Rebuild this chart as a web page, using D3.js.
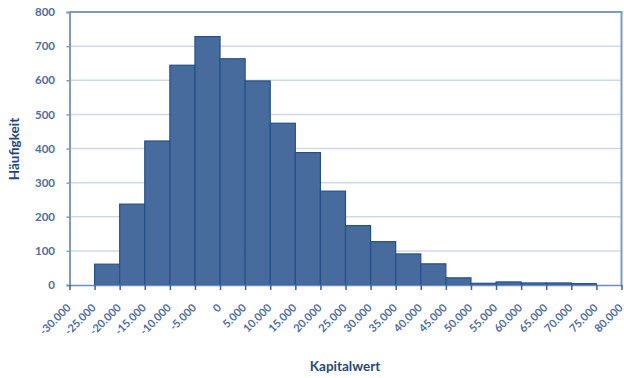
<!DOCTYPE html>
<html>
<head>
<meta charset="utf-8">
<script src="https://cdn.jsdelivr.net/npm/d3@7"></script>
<style>
  html, body { margin: 0; padding: 0; background: #ffffff; }
  svg { display: block; }
  text { font-family: Lato, "Open Sans", sans-serif; font-weight: bold; }
</style>
</head>
<body>
<svg id="chart" width="624" height="378"></svg>
<script>
// Bin lower edges (Kapitalwert) and frequencies (Häufigkeit)
const binStarts = [-30000, -25000, -20000, -15000, -10000, -5000, 0, 5000, 10000, 15000, 20000,
                   25000, 30000, 35000, 40000, 45000, 50000, 55000, 60000, 65000, 70000, 75000];
const counts    = [0, 61, 237, 422, 644, 728, 663, 598, 474, 388, 275,
                   174, 127, 91, 62, 21, 5, 9, 6, 6, 4, 0];
const binWidth = 5000;
const xTicks = [-30000, -25000, -20000, -15000, -10000, -5000, 0, 5000, 10000, 15000, 20000,
                25000, 30000, 35000, 40000, 45000, 50000, 55000, 60000, 65000, 70000, 75000, 80000];
const yTicks = [0, 100, 200, 300, 400, 500, 600, 700, 800];

const svg = d3.select("#chart");
const mLeft = 69.5, mRight = 621.5, mTop = 12, mBottom = 285;

const x = d3.scaleLinear().domain([-30000, 80000]).range([mLeft, mRight]);
const y = d3.scaleLinear().domain([0, 800]).range([mBottom, mTop]);

const fmt = v => v === 0 ? "0" : d3.format(",")(v).replace(/,/g, ".").replace("\u2212", "-");

// gridlines
svg.append("g").selectAll("line")
  .data(yTicks.filter(v => v > 0 && v < 800))
  .join("line")
  .attr("x1", mLeft).attr("x2", mRight)
  .attr("y1", d => y(d)).attr("y2", d => y(d))
  .attr("stroke", "#9fb1cc").attr("stroke-width", 1.5)
  .attr("stroke-dasharray", "1,1");

// bars
svg.append("g").selectAll("rect")
  .data(binStarts.map((s, i) => ({s, c: counts[i]})).filter(d => d.c > 0))
  .join("rect")
  .attr("x", d => x(d.s))
  .attr("width", d => x(d.s + binWidth) - x(d.s))
  .attr("y", d => y(d.c))
  .attr("height", d => y(0) - y(d.c))
  .attr("fill", "#476b9d")
  .attr("stroke", "#24508a")
  .attr("stroke-width", 1.2);

// frame: top & right
svg.append("line").attr("x1", mLeft).attr("x2", mRight + 1).attr("y1", mTop).attr("y2", mTop)
  .attr("stroke", "#7f9bc5").attr("stroke-width", 2);
svg.append("line").attr("x1", mRight).attr("x2", mRight).attr("y1", mTop).attr("y2", mBottom)
  .attr("stroke", "#7f9bc5").attr("stroke-width", 2);

// y axis
const yAxis = d3.axisLeft(y).tickValues(yTicks).tickSize(3).tickFormat(d => d);
const gy = svg.append("g").attr("transform", `translate(${mLeft},0)`).call(yAxis);
gy.select(".domain").attr("stroke", "#7f9bc5").attr("stroke-width", 2);
gy.selectAll(".tick line").attr("stroke", "#7f9bc5").attr("stroke-width", 1.5);
gy.selectAll(".tick text")
  .attr("x", -14.5)
  .attr("fill", "#4f6c9f")
  .style("font-size", "11.5px")
  .style("font-family", "Lato, sans-serif")
  .style("font-weight", "bold");

// x axis
const xAxis = d3.axisBottom(x).tickValues(xTicks).tickSize(5).tickSizeOuter(0).tickFormat(fmt);
const gx = svg.append("g").attr("transform", `translate(0,${mBottom})`).call(xAxis);
gx.select(".domain").attr("stroke", "#6f8dbd").attr("stroke-width", 1.5);
gx.selectAll(".tick line").attr("stroke", "#3e6198").attr("stroke-width", 1.5);
gx.selectAll(".tick text")
  .attr("y", 0).attr("dy", 0)
  .attr("text-anchor", "end")
  .attr("transform", "translate(1.5,23.5) rotate(-45)")
  .attr("fill", "#4f6c9f")
  .style("font-size", "11px")
  .style("font-family", "Lato, sans-serif")
  .style("font-weight", "bold");

// axis titles
svg.append("text")
  .attr("transform", "translate(19,149) rotate(-90)")
  .attr("text-anchor", "middle")
  .attr("fill", "#1f497d")
  .style("font-size", "13.5px")
  .text("Häufigkeit");

svg.append("text")
  .attr("x", 345).attr("y", 371)
  .attr("text-anchor", "middle")
  .attr("fill", "#1f497d")
  .style("font-size", "13.5px")
  .text("Kapitalwert");
</script>
</body>
</html>
